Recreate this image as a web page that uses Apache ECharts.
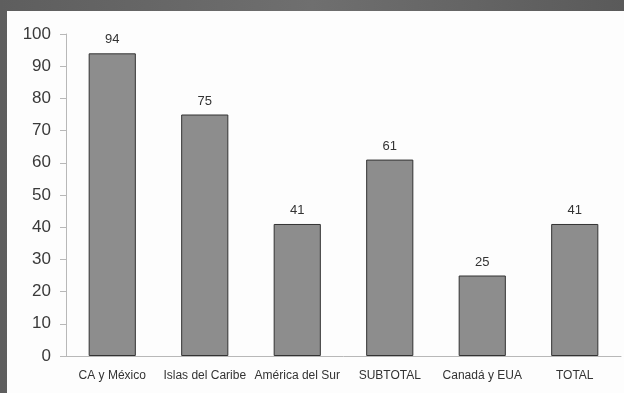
<!DOCTYPE html>
<html>
<head>
<meta charset="utf-8">
<script src="https://cdn.jsdelivr.net/npm/echarts@6/dist/echarts.min.js"></script>
<style>
html,body{margin:0;padding:0;width:624px;height:393px;overflow:hidden;background:linear-gradient(90deg,#5e5e5e,#6f6f6f,#5a5a5a);}
#frame{position:absolute;left:7px;top:11px;width:617px;height:382px;background:#fdfdfd;}
#chart{width:617px;height:382px;}
</style>
</head>
<body>
<div id="frame"><div id="chart"></div></div>
<script>
const categories = ['CA y México', 'Islas del Caribe', 'América del Sur', 'SUBTOTAL', 'Canadá y EUA', 'TOTAL'];
const values = [94, 75, 41, 61, 25, 41];
const yTicks = { min: 0, max: 100, interval: 10 };

const chart = echarts.init(document.getElementById('chart'));
chart.setOption({
  animation: false,
  textStyle: { fontFamily: 'Liberation Sans, Arial, sans-serif' },
  grid: { left: 59, right: 3, top: 23, bottom: 37 },
  xAxis: {
    type: 'category',
    data: categories,
    axisLine: { lineStyle: { color: '#b8b8b8', width: 1 } },
    axisTick: { show: false },
    axisLabel: { color: '#333', fontSize: 12, margin: 14, interval: 0 }
  },
  yAxis: {
    type: 'value',
    min: yTicks.min, max: yTicks.max, interval: yTicks.interval,
    axisLine: { show: true, lineStyle: { color: '#b8b8b8', width: 1 } },
    axisTick: { show: true, length: 6, lineStyle: { color: '#b8b8b8' } },
    splitLine: { show: false },
    axisLabel: { color: '#3a3a3a', fontSize: 17, margin: 15 }
  },
  series: [{
    type: 'bar',
    data: values,
    barWidth: '51%',
    itemStyle: { color: '#8d8d8d', borderColor: '#333', borderWidth: 1 },
    label: { show: true, position: 'top', distance: 7, color: '#333', fontSize: 13 }
  }]
});
</script>
</body>
</html>
